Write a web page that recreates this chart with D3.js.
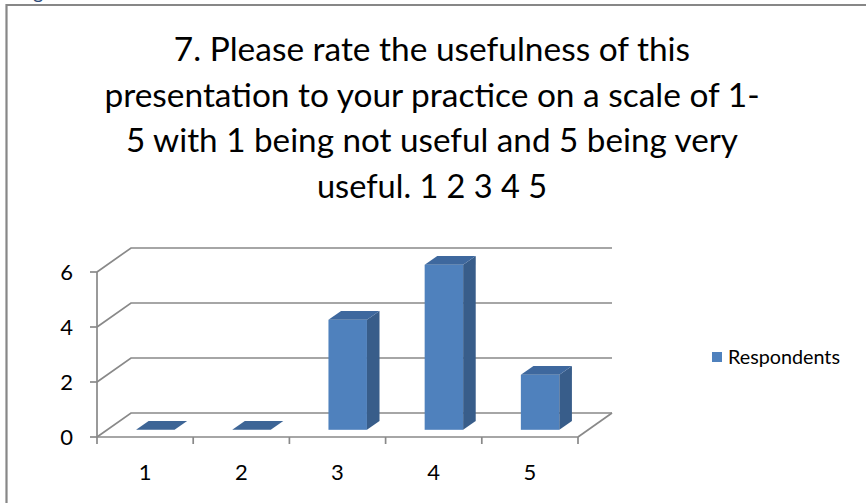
<!DOCTYPE html>
<html><head><meta charset="utf-8">
<script src="https://cdn.jsdelivr.net/npm/d3@7"></script>
<style>body{margin:0;background:#fff}svg{display:block}text{font-family:Lato,"Open Sans",sans-serif;fill:#000}</style>
</head><body><svg id="c" width="866" height="503"></svg>
<script>
const titleLines = ["7. Please rate the usefulness of this","presentation to your practice on a scale of 1-","5 with 1 being not useful and 5 being very","useful. 1 2 3 4 5"];
const titleEm = [14.34, 18.2, 17.0, 6.39]; // line widths in em (layout only)
const categories = ["1","2","3","4","5"];
const values = [0,0,4,6,2];
const yTicks = [0,2,4,6];
const seriesName = "Respondents";

const svg = d3.select("#c");
// stray glyph from the page above
svg.append("text").attr("x",33).attr("y",-1).style("font-size","20px").style("fill","#2B4A78").text("g");
// outer frame
svg.append("path").attr("d","M6.5,503V5H866").attr("fill","none").attr("stroke","#878787").attr("stroke-width",2.2);

// title
const emPx = 36;
svg.append("g").selectAll("text").data(titleLines).join("text")
  .attr("x",432).attr("y",(d,i)=>61+i*45.7).attr("text-anchor","middle")
  .attr("textLength",(d,i)=>titleEm[i]*emPx).attr("lengthAdjust","spacingAndGlyphs")
  .style("font-size","32.5px").text(d=>d);

// 3D geometry
const x0=97, x1=578, yBot=437, yTop=272;
const DX=34, DY=-24;
const x = d3.scaleBand().domain(categories).range([x0,x1]).padding(0);
const y = d3.scaleLinear().domain([0,6]).range([yBot,yTop]);
const gridC="#898989";
const g = svg.append("g");
yTicks.forEach(t=>{
  g.append("path").attr("d",`M${x0},${y(t)}L${x0+DX},${y(t)+DY}H${x1+DX}`)
   .attr("fill","none").attr("stroke",gridC).attr("stroke-width",1.7);
});
g.append("path").attr("d",`M${x1},${yBot}L${x1+DX},${yBot+DY}`).attr("fill","none").attr("stroke",gridC).attr("stroke-width",1.7);
g.append("path").attr("d",`M${x0},${y(6)}V${yBot}H${x1}`).attr("fill","none").attr("stroke",gridC).attr("stroke-width",1.7);
yTicks.forEach(t=>{
  g.append("line").attr("x1",x0-7).attr("x2",x0).attr("y1",y(t)).attr("y2",y(t)).attr("stroke",gridC).attr("stroke-width",1.7);
  g.append("text").attr("x",73).attr("y",y(t)).attr("dy","0.36em").attr("text-anchor","end").style("font-size","22px").text(t);
});
const bounds = categories.map(c=>x(c)).concat([x1]);
bounds.forEach(b=>{
  g.append("line").attr("x1",b).attr("x2",b).attr("y1",yBot).attr("y2",yBot+7).attr("stroke",gridC).attr("stroke-width",1.7);
});
categories.forEach(c=>{
  g.append("text").attr("x",x(c)+x.bandwidth()/2).attr("y",480).attr("text-anchor","middle").style("font-size","22px").text(c);
});

// bars
const zF=0.3, zB=0.67;
const bw = x.bandwidth()*0.4;
const cFront="#4F81BD", cSide="#385D8A", cTop="#3E689E";
categories.forEach((c,i)=>{
  const v=values[i];
  const fx = x(c)+x.bandwidth()/2 - bw/2 + DX*zF;
  const fyb = y(0)+DY*zF, fyt = y(v)+DY*zF;
  const ddx = DX*(zB-zF), ddy = DY*(zB-zF);
  const bg = g.append("g");
  if(v>0){
    bg.append("rect").attr("x",fx).attr("y",fyt).attr("width",bw).attr("height",fyb-fyt).attr("fill",cFront);
    bg.append("path").attr("d",`M${fx+bw},${fyt}L${fx+bw+ddx},${fyt+ddy}V${fyb+ddy}L${fx+bw},${fyb}Z`).attr("fill",cSide);
  }
  bg.append("path").attr("d",`M${fx},${fyt}L${fx+ddx},${fyt+ddy}H${fx+bw+ddx}L${fx+bw},${fyt}Z`).attr("fill",v>0?cTop:"#3D6596");
});

// legend
const lg = svg.append("g");
lg.append("rect").attr("x",712).attr("y",352).attr("width",10).attr("height",10).attr("fill",cFront);
lg.append("text").attr("x",728).attr("y",364).attr("textLength",112).attr("lengthAdjust","spacingAndGlyphs").style("font-size","20px").text(seriesName);
</script></body></html>
